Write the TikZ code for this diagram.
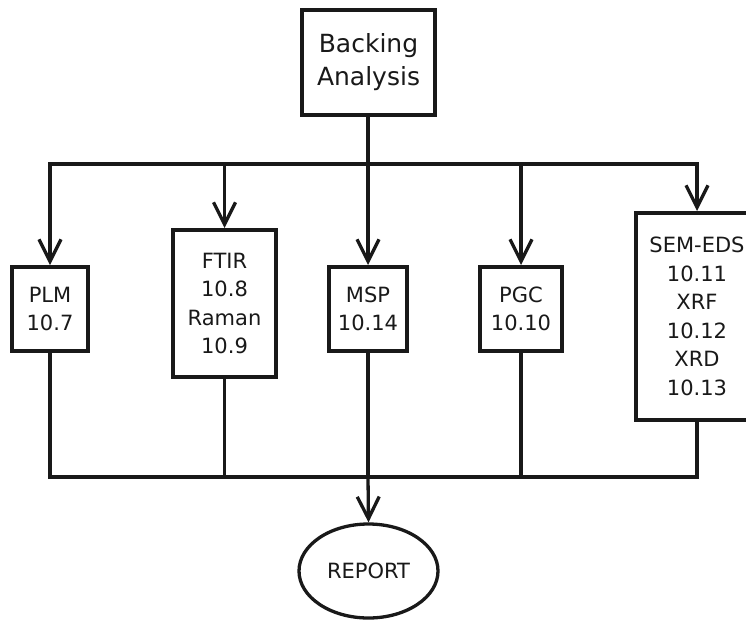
\documentclass[tikz,border=0pt]{standalone}
\usepackage{fontspec}
\setmainfont{DejaVu Sans}
\usetikzlibrary{arrows.meta,shapes.geometric}
\begin{document}
\begin{tikzpicture}[x=1pt,y=-1pt,
  box/.style={draw=black!90, line width=4pt, align=center, inner sep=0pt,
    font=\fontsize{21}{28.5}\selectfont, text=black!90},
  conn/.style={draw=black!90, line width=3.3pt},
  arr/.style={conn, -{Straight Barb[length=22pt,width=22pt,line width=3.3pt]}},
  endbox/.style={ellipse, draw=black!90, line width=3.3pt, inner sep=0pt,
    font=\fontsize{21}{24}\selectfont, text=black!90}]
\useasboundingbox (0,0) rectangle (746,619);
\fill[white] (0,0) rectangle (746,619);
% nodes
\node[box, minimum width=133pt, minimum height=105pt, font=\fontsize{25}{33}\selectfont]
  (back) at (368.5,62.5) {Backing\\Analysis};
\node[box, minimum width=76pt, minimum height=84pt] (plm) at (50,309) {PLM\\10.7};
\node[box, minimum width=103pt, minimum height=147pt] (ftir) at (224.5,303.5) {FTIR\\10.8\\Raman\\10.9};
\node[box, minimum width=78pt, minimum height=84pt] (msp) at (368,309) {MSP\\10.14};
\node[box, minimum width=82pt, minimum height=84pt] (pgc) at (521,309) {PGC\\10.10};
\node[box, minimum width=122pt, minimum height=207pt] (sem) at (697,316.5) {SEM-EDS\\10.11\\XRF\\10.12\\XRD\\10.13};
\node[endbox, minimum width=139pt, minimum height=94pt] (rep) at (368.5,571) {REPORT};
% junction coordinates
\coordinate (tl) at (50,164);
\coordinate (tr) at (697,164);
\coordinate (bl) at (50,477);
\coordinate (br) at (697,477);
\coordinate (bm) at (368,477);
% top distribution
\draw[conn] ([xshift=-1.65pt]tl) -- ([xshift=1.65pt]tr);
\draw[arr] (back.south -| msp.north) -- (msp.north);
\draw[arr] (tl) -- (plm.north);
\draw[arr] (tl -| ftir.north) -- (ftir.north);
\draw[arr] (tl -| pgc.north) -- (pgc.north);
\draw[arr] (tr) -- (sem.north);
% bottom collection
\draw[conn] (plm.south) -- (bl);
\draw[conn] (ftir.south) -- (bl -| ftir.south);
\draw[conn] (msp.south) -- (bm);
\draw[conn] (pgc.south) -- (bl -| pgc.south);
\draw[conn] (sem.south) -- (br);
\draw[conn] ([xshift=-1.65pt]bl) -- ([xshift=1.65pt]br);
\draw[arr] (bm) -- (rep.north);
\end{tikzpicture}
\end{document}
